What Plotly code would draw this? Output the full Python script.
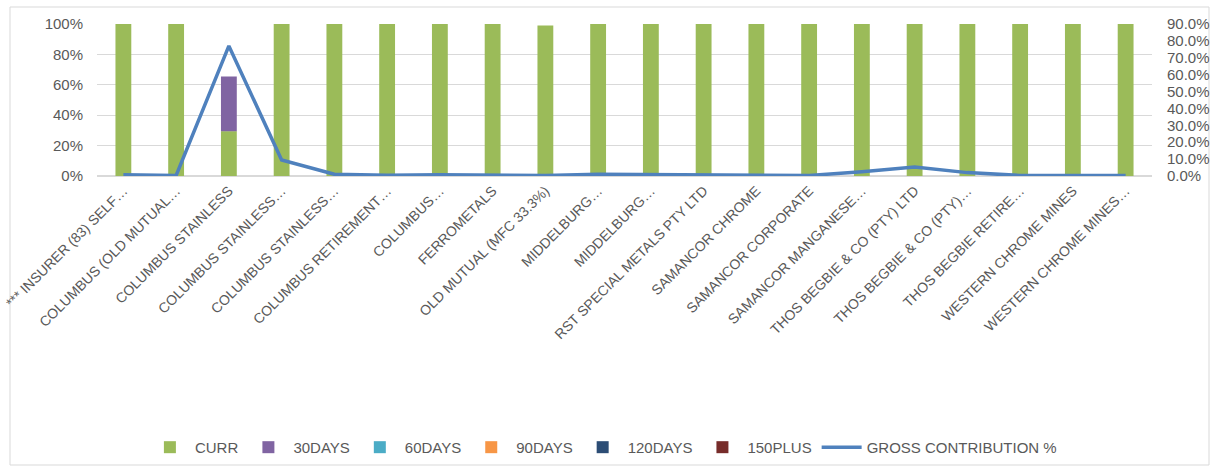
import plotly.graph_objects as go

categories = [
    "*** INSURER (83) SELF…", "COLUMBUS (OLD MUTUAL…", "COLUMBUS STAINLESS",
    "COLUMBUS STAINLESS…", "COLUMBUS STAINLESS…", "COLUMBUS RETIREMENT…",
    "COLUMBUS…", "FERROMETALS", "OLD MUTUAL (MFC 33.3%)", "MIDDELBURG…",
    "MIDDELBURG…", "RST SPECIAL METALS PTY LTD", "SAMANCOR CHROME",
    "SAMANCOR CORPORATE", "SAMANCOR MANGANESE…", "THOS BEGBIE & CO (PTY) LTD",
    "THOS BEGBIE & CO (PTY)…", "THOS BEGBIE RETIRE…", "WESTERN CHROME MINES",
    "WESTERN CHROME MINES…",
]
curr = [1, 1, 0.295, 1, 1, 1, 1, 1, 0.99, 1, 1, 1, 1, 1, 1, 1, 1, 1, 1, 1]
days30 = [0, 0, 0.36, 0, 0, 0, 0, 0, 0, 0, 0, 0, 0, 0, 0, 0, 0, 0, 0, 0]
days60 = [0, 0, -0.008, 0, 0, 0, 0, 0, 0, 0, 0, 0, 0, 0, 0, 0, 0, 0, 0, 0]
days90 = [0] * 20
days120 = [0] * 20
plus150 = [0] * 20
gross = [0.008, 0.003, 0.77, 0.095, 0.01, 0.005, 0.007, 0.003, 0.003, 0.01,
         0.008, 0.003, 0.005, 0.003, 0.025, 0.053, 0.02, 0.003, 0.003, 0.003]

x_idx = list(range(len(categories)))
font = "Liberation Sans Narrow, Arial Narrow, Liberation Sans, sans-serif"
grey = "#595959"

fig = go.Figure()
series = [
    ("CURR", curr, "#9BBB59"),
    ("30DAYS", days30, "#8064A2"),
    ("60DAYS", days60, "#4BACC6"),
    ("90DAYS", days90, "#F79646"),
    ("120DAYS", days120, "#2C4D75"),
    ("150PLUS", plus150, "#772C2A"),
]
for name, vals, col in series:
    fig.add_trace(go.Bar(x=x_idx, y=vals, name=name, marker=dict(color=col, line_width=0)))

fig.add_trace(go.Scatter(x=x_idx, y=gross, name="GROSS CONTRIBUTION %", yaxis="y2",
                         mode="lines", line=dict(color="#4F81BD", width=3.5)))

fig.update_layout(
    width=1212, height=471,
    margin=dict(l=97, r=60, t=24, b=295),
    barmode="relative", bargap=0.7,
    plot_bgcolor="white", paper_bgcolor="white",
    font=dict(family=font, size=14, color=grey),
    xaxis=dict(tickmode="array", tickvals=x_idx, ticktext=categories, tickangle=-45,
               range=[-0.5, len(categories) - 0.5], showgrid=False, zeroline=False,
               showline=False, automargin=False, ticklabelstandoff=3,
               tickfont=dict(size=14, color=grey)),
    yaxis=dict(range=[0, 1], tickvals=[0, 0.2, 0.4, 0.6, 0.8, 1.0], tickformat=".0%",
               showgrid=True, gridcolor="#D9D9D9", gridwidth=1, zeroline=True,
               zerolinecolor="#D9D9D9", automargin=False, ticks="", ticklen=0,
               ticklabelstandoff=13, tickfont=dict(size=15, color=grey)),
    yaxis2=dict(range=[0, 0.9], tickvals=[i / 10 for i in range(10)], tickformat=".1%",
                overlaying="y", side="right", showgrid=False, zeroline=False,
                automargin=False, ticks="", ticklen=0, ticklabelstandoff=14,
                tickfont=dict(size=15, color=grey)),
    legend=dict(orientation="h", xanchor="center", x=0.48, yref="container", y=0.015,
                yanchor="bottom", font=dict(size=15, color=grey), traceorder="normal",
                itemwidth=40),
    shapes=[dict(type="rect", xref="paper", yref="paper",
                 x0=(10 - 97) / 1055, x1=(1209 - 97) / 1055,
                 y0=(471 - 295 - 465) / 152, y1=(471 - 295 - 7) / 152,
                 line=dict(color="#D9D9D9", width=1), fillcolor="rgba(0,0,0,0)", layer="below")],
)

fig.write_html("out.html")
